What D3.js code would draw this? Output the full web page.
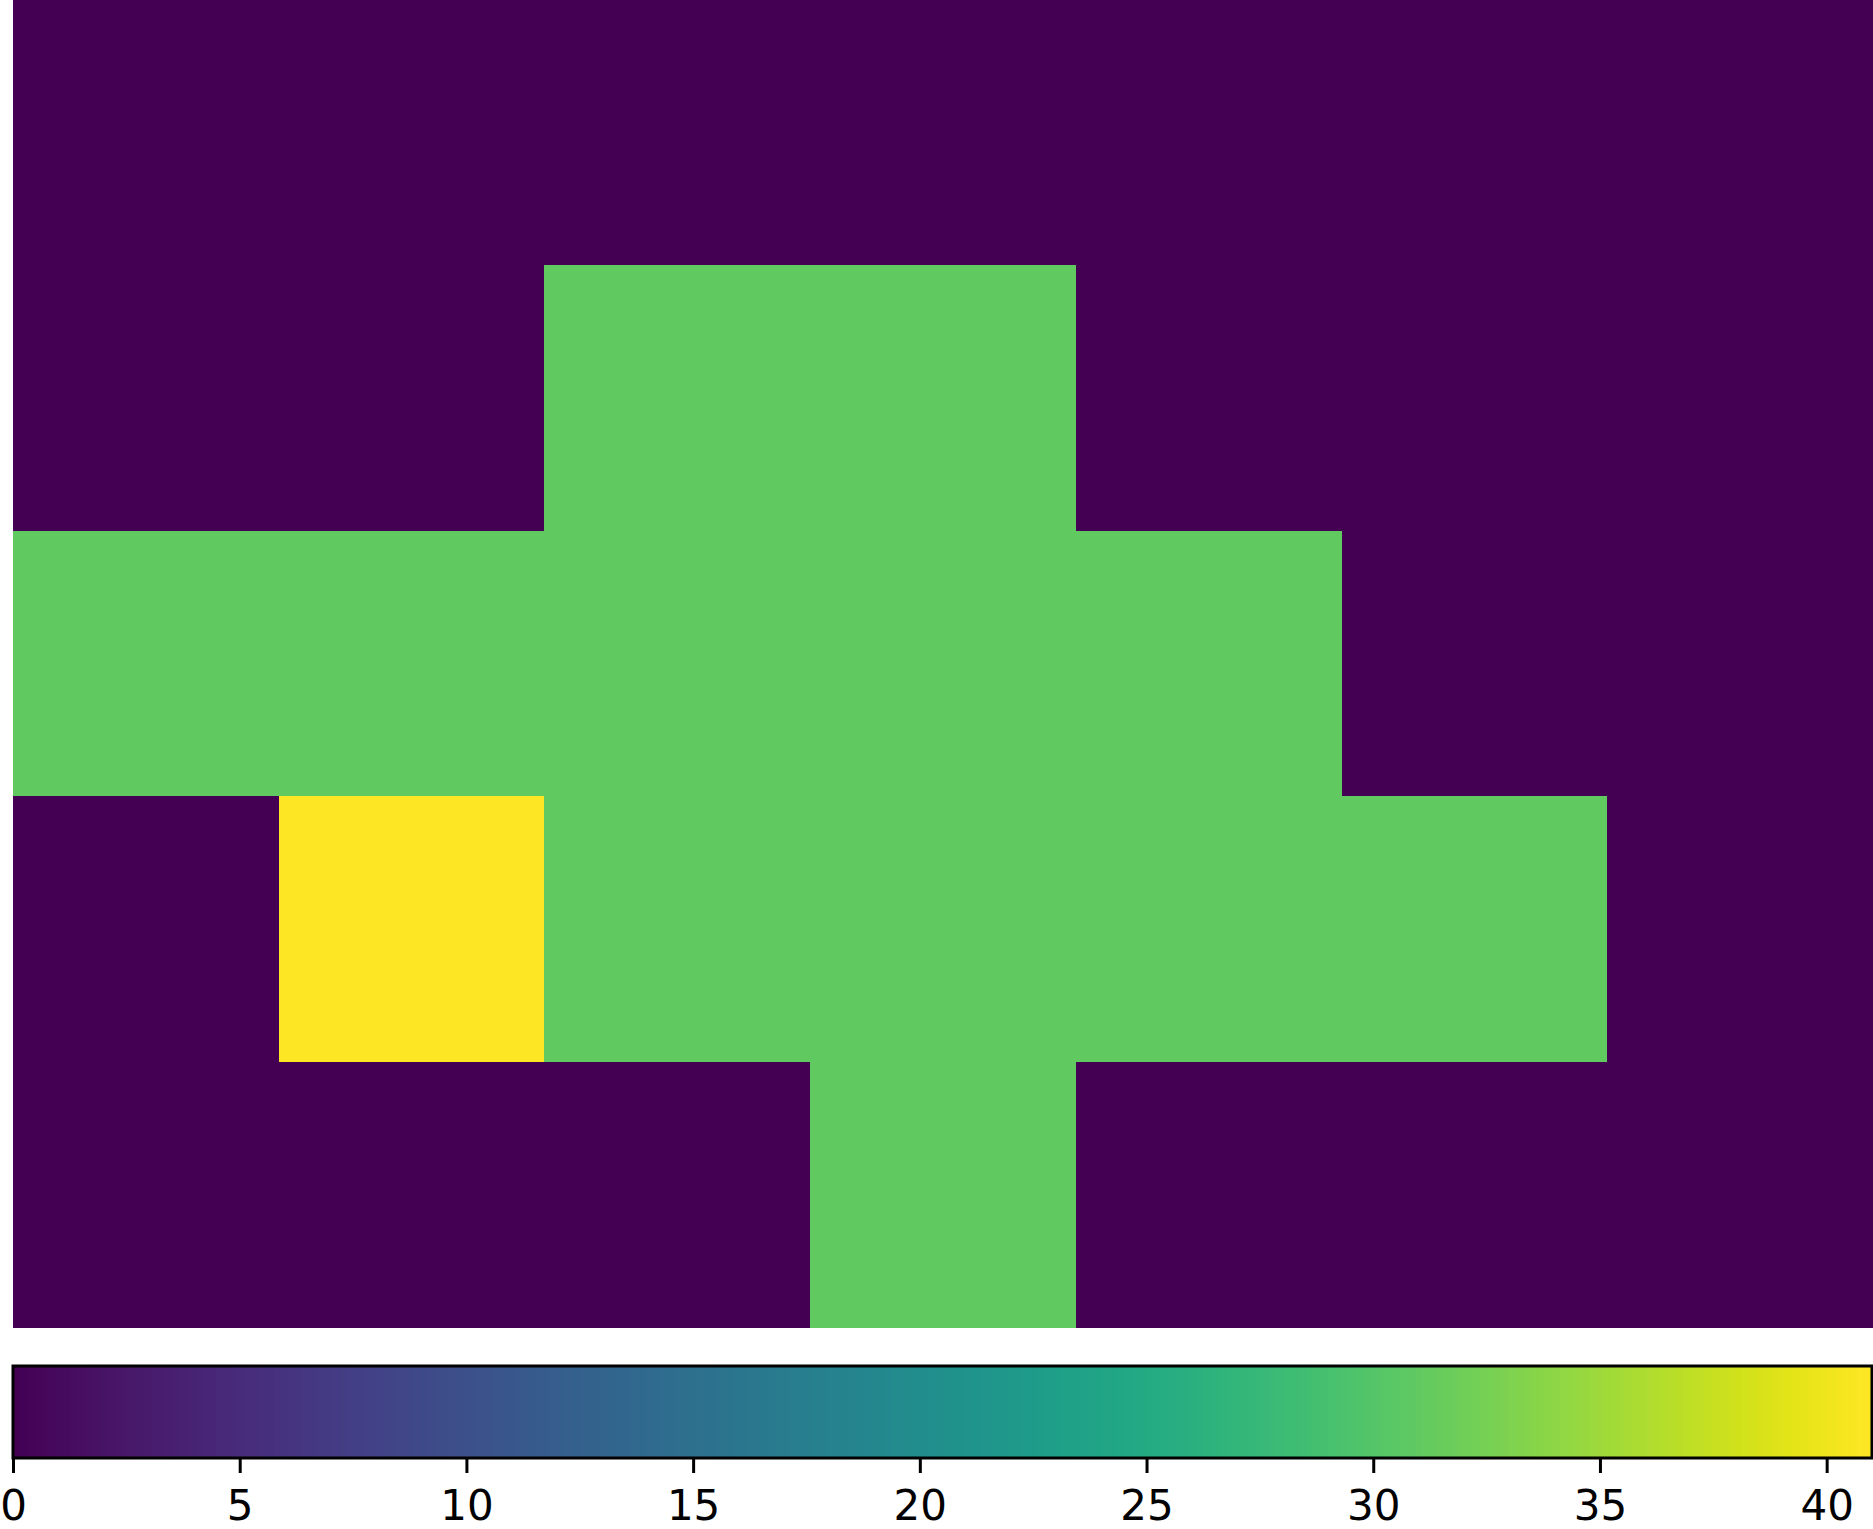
<!DOCTYPE html>
<html>
<head>
<meta charset="utf-8">
<script src="https://cdn.jsdelivr.net/npm/d3@7"></script>
<style>
  html, body { margin: 0; padding: 0; background: #fff; }
  svg { display: block; }
</style>
</head>
<body>
<svg id="chart" width="1873" height="1529"></svg>
<script>
// ---- data ----
const rows = [0, 1, 2, 3, 4];
const cols = [0, 1, 2, 3, 4, 5, 6];
const row0 = [0, 0, 0, 0, 0, 0, 0];
const row1 = [0, 0, 31, 31, 0, 0, 0];
const row2 = [31, 31, 31, 31, 31, 0, 0];
const row3 = [0, 41, 31, 31, 31, 31, 0];
const row4 = [0, 0, 0, 31, 0, 0, 0];
const colorMin = 0;
const colorMax = 41;
const tickValues = [0, 5, 10, 15, 20, 25, 30, 35, 40];

const grid = [row0, row1, row2, row3, row4];

const svg = d3.select("#chart");

// ---- heatmap ----
const hm = { left: 13, right: 1873, top: 0, bottom: 1327 };
const x = d3.scaleBand().domain(cols).range([hm.left, hm.right]).padding(0);
const y = d3.scaleBand().domain(rows).range([hm.top, hm.bottom]).padding(0);
const color = d3.scaleSequential(d3.interpolateViridis).domain([colorMin, colorMax]);

const cells = [];
grid.forEach((r, ri) => r.forEach((v, ci) => cells.push({ r: ri, c: ci, v })));

svg.append("g").selectAll("rect")
  .data(cells)
  .join("rect")
  .attr("x", d => x(d.c))
  .attr("y", d => y(d.r))
  .attr("width", x.bandwidth() + 0.5)
  .attr("height", y.bandwidth() + 0.5)
  .attr("fill", d => color(d.v))
  .attr("shape-rendering", "crispEdges");

// ---- colorbar ----
const cb = { left: 13, right: 1872, top: 1366, bottom: 1458 };
const cx = d3.scaleLinear().domain([colorMin, colorMax]).range([cb.left, cb.right]);
const nSteps = 256;
const steps = d3.range(nSteps).map(i => colorMin + (colorMax - colorMin) * i / nSteps);
const stepW = (colorMax - colorMin) / nSteps;

svg.append("g").selectAll("rect")
  .data(steps)
  .join("rect")
  .attr("x", d => cx(d))
  .attr("y", cb.top)
  .attr("width", d => cx(d + stepW) - cx(d) + 0.6)
  .attr("height", cb.bottom - cb.top)
  .attr("fill", d => color(d + stepW / 2))
  .attr("shape-rendering", "crispEdges");

svg.append("rect")
  .attr("x", cb.left)
  .attr("y", cb.top)
  .attr("width", cb.right - cb.left)
  .attr("height", cb.bottom - cb.top)
  .attr("fill", "none")
  .attr("stroke", "#000")
  .attr("stroke-width", 3);

const axis = d3.axisBottom(cx)
  .tickValues(tickValues)
  .tickSize(15)
  .tickPadding(17)
  .tickFormat(d3.format("d"));

const ag = svg.append("g")
  .attr("transform", `translate(0,${cb.bottom})`)
  .call(axis);
ag.select(".domain").remove();
ag.selectAll(".tick line").attr("stroke", "#000").attr("stroke-width", 3);
ag.selectAll(".tick text")
  .attr("fill", "#000")
  .style("font-family", "'DejaVu Sans', sans-serif")
  .style("font-size", "42px");
</script>
</body>
</html>
